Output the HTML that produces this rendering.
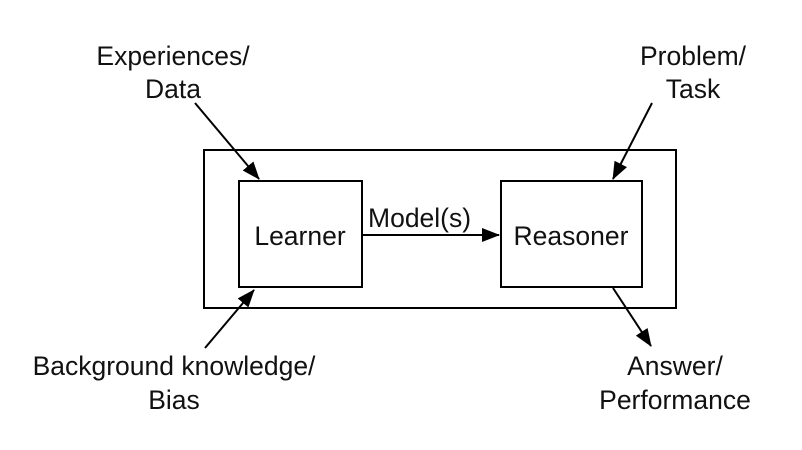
<!DOCTYPE html>
<html><head><style>
html,body{margin:0;padding:0;background:#fff;}
svg text{font-family:"Liberation Sans",Arial,sans-serif;fill:#111;}
</style></head><body>
<svg width="802" height="445" viewBox="0 0 802 445" xmlns="http://www.w3.org/2000/svg">
<defs>
<marker id="b" markerWidth="18" markerHeight="14" refX="17" refY="7" orient="auto" markerUnits="userSpaceOnUse" viewBox="0 0 18 14"><path d="M0,0 L18,7 L0,14 z" fill="#000"/></marker></defs>
<rect x="204" y="150" width="472" height="158" fill="none" stroke="#000" stroke-width="2"/>
<rect x="239" y="181" width="123" height="106" fill="none" stroke="#000" stroke-width="2"/>
<rect x="501" y="181" width="141" height="106" fill="none" stroke="#000" stroke-width="2"/>
<line x1="362" y1="235" x2="499" y2="235" stroke="#000" stroke-width="2" marker-end="url(#b)"/>
<line x1="195" y1="103" x2="259" y2="179" stroke="#000" stroke-width="2" marker-end="url(#b)"/>
<line x1="652" y1="103" x2="613" y2="179" stroke="#000" stroke-width="2" marker-end="url(#b)"/>
<line x1="205" y1="348" x2="254" y2="290" stroke="#000" stroke-width="2" marker-end="url(#b)"/>
<line x1="613" y1="288" x2="651" y2="346" stroke="#000" stroke-width="2" marker-end="url(#b)"/>
<g font-size="26.5">
<text x="300" y="245" text-anchor="middle">Learner</text>
<text x="571" y="245" text-anchor="middle">Reasoner</text>
<text x="368" y="227">Model(s)</text>
<text x="173" y="65" text-anchor="middle">Experiences/</text>
<text x="173" y="98" text-anchor="middle">Data</text>
<text x="693" y="65" text-anchor="middle">Problem/</text>
<text x="693" y="98" text-anchor="middle">Task</text>
<text x="174" y="375" text-anchor="middle">Background knowledge/</text>
<text x="174" y="409" text-anchor="middle">Bias</text>
<text x="675" y="375" text-anchor="middle">Answer/</text>
<text x="675" y="409" text-anchor="middle">Performance</text>
</g>
</svg>
</body></html>
